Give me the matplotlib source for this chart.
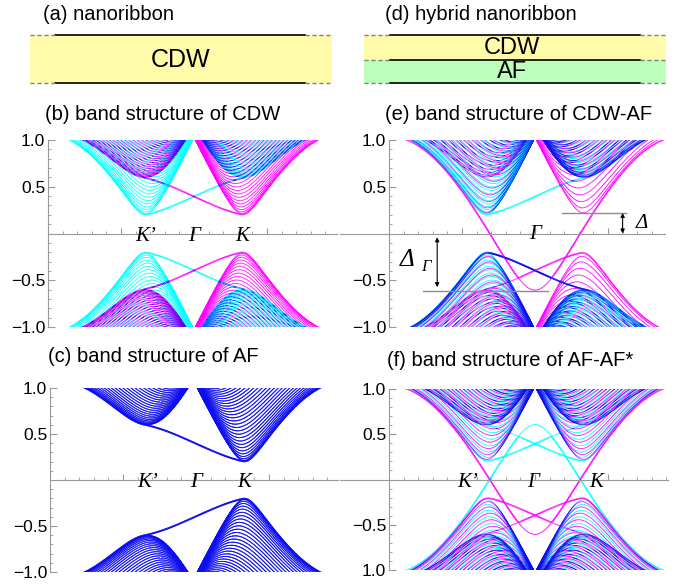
import numpy as np
import matplotlib.pyplot as plt
from matplotlib.collections import LineCollection
from matplotlib.patches import Rectangle

plt.rcParams['font.family'] = ['Liberation Sans', 'DejaVu Sans']

W, H = 677, 587

# zigzag ribbon model (energies in units of t)
n_chains = 70
hop = 1.0
lam_so = 0.2      # spin-orbit mass
lam_v = 0.4       # CDW staggered potential
lam_af = -0.4     # AF staggered exchange
k_grid = np.linspace(0, 2 * np.pi, 301)

# panel phases: (bottom half, top half)
phases_b = ('CDW', 'CDW')
phases_c = ('AF', 'AF')
phases_e = ('AF*', 'CDW')
phases_f = ('AF*', 'AF')

ytick_vals = [-1.0, -0.5, 0.5, 1.0]
ytick_text = ['\u22121.0', '\u22120.5', '0.5', '1.0']
ytick_text_f = ['1.0', '\u22120.5', '0.5', '1.0']

labels_std = ['K\u2019', '\u0393', 'K']
labels_std_x = [2 / 3, 1.0, 4 / 3]
labels_f_x = [0.54, 0.99, 1.42]

gap_K = 0.22
gap_gamma = -0.615

cyan = np.array([0.0, 1.0, 1.0])
magenta = np.array([1.0, 0.0, 1.0])
blue = np.array([0.05, 0.05, 0.95])


def onsite(phase, s):
    if phase == 'CDW':
        return lam_v
    if phase == 'AF':
        return s * lam_af
    return -s * lam_af


def ribbon_bands(bottom, top, s):
    n = 2 * n_chains
    c = lam_so / (3 * np.sqrt(3))
    T0 = np.zeros((n, n), complex)
    T1 = np.zeros((n, n), complex)
    for j in range(n_chains):
        a, b = 2 * j, 2 * j + 1
        # zigzag chain: A_j - B_j twice, chains joined by vertical bonds
        T0[a, b] = T0[b, a] = -hop
        T1[b, a] = -hop
        if j > 0:
            T0[a, b - 2] = T0[b - 2, a] = -hop
        T1[a, a] = 1j * c * s
        T1[b, b] = -1j * c * s
        if j < n_chains - 1:
            T0[a, a + 2] = -1j * c * s
            T0[a + 2, a] = 1j * c * s
            T1[a + 2, a] = -1j * c * s
            T0[b, b + 2] = 1j * c * s
            T0[b + 2, b] = -1j * c * s
            T1[b + 2, b] = 1j * c * s
        v = onsite(top if j >= n_chains // 2 else bottom, s)
        T0[a, a] += v
        T0[b, b] -= v
    out = []
    for kk in np.array_split(k_grid, 6):
        ph = np.exp(1j * kk)[:, None, None]
        h = T0[None] + T1[None] * ph + T1.conj().T[None] * np.conj(ph)
        out.append(np.linalg.eigvalsh(h))
    return np.vstack(out)


def mixing(e_self, e_other, width=0.005):
    d = np.empty_like(e_self)
    for i in range(e_self.shape[0]):
        row = e_other[i]
        idx = np.clip(np.searchsorted(row, e_self[i]), 1, len(row) - 1)
        d[i] = np.minimum(np.abs(e_self[i] - row[idx]), np.abs(e_self[i] - row[idx - 1]))
    return np.exp(-(d / width) ** 2)


def draw_bands(ax, phases):
    e_up = ribbon_bands(phases[0], phases[1], 1)
    e_dn = ribbon_bands(phases[0], phases[1], -1)
    w_up = mixing(e_up, e_dn)
    w_dn = mixing(e_dn, e_up)
    segs, cols, widths = [], [], []
    for b in range(e_up.shape[1]):
        for e, w, base in ((e_up, w_up, cyan), (e_dn, w_dn, magenta)):
            y = e[:, b]
            if np.min(np.abs(y)) > 1.02:
                continue
            pts = np.column_stack([k_grid, y])
            s = np.stack([pts[:-1], pts[1:]], axis=1)
            keep = np.minimum(np.abs(y[:-1]), np.abs(y[1:])) < 1.02
            ws = 0.5 * (w[:-1, b] + w[1:, b])[keep]
            segs.append(s[keep])
            cols.append(base[None] * (1 - ws[:, None]) + blue[None] * ws[:, None])
            lw = 1.2 if b in (n_chains - 1, n_chains) else 0.65
            widths.append(np.full(len(ws), lw))
    lc = LineCollection(np.concatenate(segs), colors=np.concatenate(cols),
                        linewidths=np.concatenate(widths))
    ax.add_collection(lc)


def px_rect(x0, x1, ytop, ybot):
    return [x0 / W, 1 - ybot / H, (x1 - x0) / W, (ybot - ytop) / H]


def style_axes(ax, xmax, ylabels):
    ax.set_xlim(0, xmax * np.pi)
    ax.set_ylim(-1, 1)
    for sp in ['top', 'right']:
        ax.spines[sp].set_visible(False)
    ax.spines['bottom'].set_position(('data', 0))
    for sp in ['left', 'bottom']:
        ax.spines[sp].set_color('0.6')
        ax.spines[sp].set_linewidth(0.8)
    ax.set_yticks(ytick_vals)
    ax.set_yticklabels(ylabels)
    ax.set_yticks(np.arange(-1.0, 1.001, 0.1), minor=True)
    ax.set_xticks(np.arange(0.5, xmax, 0.5) * np.pi)
    ax.set_xticks(np.arange(0.1, xmax, 0.1) * np.pi, minor=True)
    ax.set_xticklabels([])
    ax.tick_params(axis='y', which='major', direction='in', length=5, width=0.8,
                   color='0.6', labelsize=12.5, pad=2)
    ax.tick_params(axis='y', which='minor', direction='in', length=2.5, width=0.6, color='0.6')
    ax.tick_params(axis='x', which='major', direction='in', length=4, width=0.8, color='0.6')
    ax.tick_params(axis='x', which='minor', direction='in', length=2.5, width=0.6, color='0.6')


def valley_labels(ax, xs, names):
    for x, t in zip(xs, names):
        ax.text(x * np.pi, -0.03, t, ha='center', va='center', fontsize=15,
                family='Liberation Serif', style='italic')


fig = plt.figure(figsize=(W / 100, H / 100), dpi=100)

# schematics (a) and (d), in pixel coordinates
ov = fig.add_axes([0, 0, 1, 1])
ov.set_xlim(0, W)
ov.set_ylim(H, 0)
ov.axis('off')
ov.add_patch(Rectangle((30, 35), 302, 48, color='#FFFBA8', lw=0))
ov.add_patch(Rectangle((364, 35), 302, 25, color='#FFFBA8', lw=0))
ov.add_patch(Rectangle((364, 60), 302, 23, color='#BBFFBB', lw=0))
for y in (35, 83):
    ov.plot([55, 305], [y, y], color='k', lw=1.2)
    ov.plot([30, 55], [y, y], color='0.5', lw=1, ls=(0, (3, 2)))
    ov.plot([305, 332], [y, y], color='0.5', lw=1, ls=(0, (3, 2)))
for y in (35, 60, 83):
    ov.plot([390, 640], [y, y], color='k', lw=1.2)
    ov.plot([364, 390], [y, y], color='0.5', lw=1, ls=(0, (3, 2)))
    ov.plot([640, 666], [y, y], color='0.5', lw=1, ls=(0, (3, 2)))
ov.text(181, 60, 'CDW', ha='center', va='center', fontsize=18)
ov.text(512, 48, 'CDW', ha='center', va='center', fontsize=17)
ov.text(512, 72, 'AF', ha='center', va='center', fontsize=17)
ov.text(43, 15, '(a) nanoribbon', ha='left', va='center', fontsize=14.5)
ov.text(385, 15, '(d) hybrid nanoribbon', ha='left', va='center', fontsize=14.5)
ov.text(45, 115, '(b) band structure of CDW', ha='left', va='center', fontsize=14.5)
ov.text(48, 356, '(c) band structure of AF', ha='left', va='center', fontsize=14.5)
ov.text(385, 115, '(e) band structure of CDW-AF', ha='left', va='center', fontsize=14.5)
ov.text(387, 360, '(f) band structure of AF-AF*', ha='left', va='center', fontsize=14.5)
ov.plot([340, 389], [233.5, 233.5], color='0.6', lw=0.8)
ov.plot([340, 389], [480, 480], color='0.6', lw=0.8)

ppi = 146.0
ax_b = fig.add_axes(px_rect(48, 337, 140, 327))
ax_c = fig.add_axes(px_rect(50, 338, 388, 572))
ax_e = fig.add_axes(px_rect(389, 665, 140, 327))
ax_f = fig.add_axes(px_rect(389, 668, 389, 570))

for ax, ph in ((ax_b, phases_b), (ax_c, phases_c), (ax_e, phases_e), (ax_f, phases_f)):
    draw_bands(ax, ph)

style_axes(ax_b, 289 / ppi, ytick_text)
style_axes(ax_c, 288 / ppi, ytick_text)
style_axes(ax_e, 276 / ppi, ytick_text)
style_axes(ax_f, 279 / ppi, ytick_text_f)

valley_labels(ax_b, labels_std_x, labels_std)
valley_labels(ax_c, labels_std_x, labels_std)
valley_labels(ax_f, labels_f_x, labels_std)
ax_e.text(np.pi, -0.01, '\u0393', ha='center', va='center', fontsize=15,
          family='Liberation Serif', style='italic')

# gap markers in (e)
ax_e.plot([1.185 * np.pi, 1.62 * np.pi], [gap_K, gap_K], color='0.55', lw=1)
ax_e.annotate('', xy=(1.6 * np.pi, 0.0), xytext=(1.6 * np.pi, gap_K),
              arrowprops=dict(arrowstyle='<|-|>', color='k', lw=0.8,
                              mutation_scale=6, shrinkA=0, shrinkB=0))
ax_e.text(1.73 * np.pi, 0.11, '\u0394', ha='center', va='center', fontsize=15,
          family='Liberation Serif', style='italic')
ax_e.plot([0.233 * np.pi, 1.09 * np.pi], [gap_gamma, gap_gamma], color='0.55', lw=1)
ax_e.annotate('', xy=(0.33 * np.pi, -0.04), xytext=(0.33 * np.pi, gap_gamma + 0.04),
              arrowprops=dict(arrowstyle='<|-|>', color='k', lw=0.8,
                              mutation_scale=6, shrinkA=0, shrinkB=0))
ax_e.text(0.125 * np.pi, -0.28, '\u0394', ha='center', va='center', fontsize=18,
          family='Liberation Serif', style='italic')
ax_e.text(0.25 * np.pi, -0.36, '\u0393', ha='center', va='center', fontsize=12,
          family='Liberation Serif', style='italic')

fig.savefig('out.png', dpi=100)
